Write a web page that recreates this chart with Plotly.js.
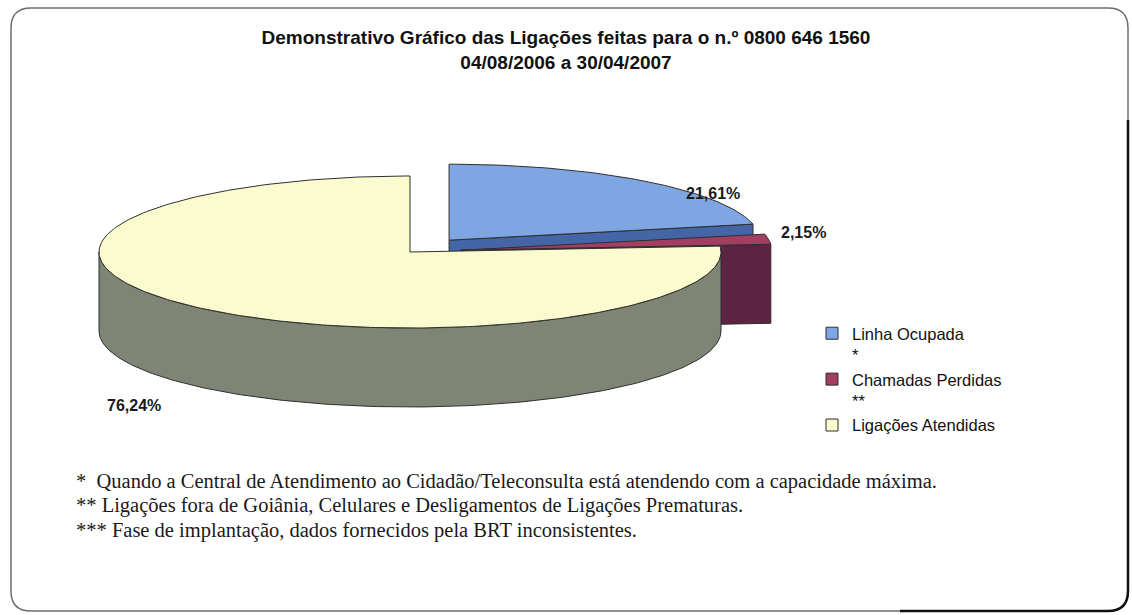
<!DOCTYPE html>
<html>
<head>
<meta charset="utf-8">
<script src="https://cdn.plot.ly/plotly-3.0.1.min.js"></script>
<style>
  html, body { margin: 0; padding: 0; background: #ffffff; }
  #chart { width: 1132px; height: 615px; }
</style>
</head>
<body>
<div id="chart"></div>
<script>
// ---- data ----
const categories = ['Linha Ocupada', 'Chamadas Perdidas', 'Ligações Atendidas'];
const legendNotes = ['*', '**', ''];
const values = [21.61, 2.15, 76.24];
const footnotes = [
  '* &nbsp;Quando a Central de Atendimento ao Cidadão/Teleconsulta está atendendo com a capacidade máxima.',
  '** Ligações fora de Goiânia, Celulares e Desligamentos de Ligações Prematuras.',
  '*** Fase de implantação, dados fornecidos pela BRT inconsistentes.'
];
const titleLines = ['Demonstrativo Gráfico das Ligações feitas para o n.º 0800 646 1560', '04/08/2006 a 30/04/2007'];

// ---- style ----
const topColors  = ['#7ea6e3', '#a13e62', '#fbfbd0'];
const sideColors = ['#4465a6', '#5c2342', '#7e8574'];
const pulls = [0.2, 0.165, 0];
const CX = 410, CY = 252, RX = 311, RY = 76, DEPTH = 79;
const outline = '#2f2f2f';
const labelPos = [[713, 193], [803, 232], [134, 405]];

// ---- geometry from values ----
const total = values.reduce((a, b) => a + b, 0);
const slices = [];
let acc = 0;
values.forEach((v, i) => {
  const a0 = acc / total * 2 * Math.PI;
  acc += v;
  const a1 = acc / total * 2 * Math.PI;
  const mid = (a0 + a1) / 2;
  const vx = CX + pulls[i] * RX * Math.sin(mid);
  const vy = CY - pulls[i] * RY * Math.cos(mid);
  slices.push({i, a0, a1, mid, vx, vy});
});

function pt(s, a, dy) { return [s.vx + RX * Math.sin(a), s.vy - RY * Math.cos(a) + (dy || 0)]; }
function arc(s, a, b, dy) {
  const n = Math.max(2, Math.ceil(Math.abs(b - a) / (Math.PI / 180)));
  const out = [];
  for (let k = 0; k <= n; k++) out.push(pt(s, a + (b - a) * k / n, dy));
  return out;
}
function poly(points, color, name) {
  return {
    type: 'scatter', mode: 'lines', fill: 'toself', fillcolor: color,
    x: points.map(p => p[0]), y: points.map(p => p[1]),
    line: {color: outline, width: 1}, hoverinfo: 'skip', showlegend: false, name: name
  };
}

const traces = [];
const order = slices.slice().sort((p, q) => Math.cos(q.mid) - Math.cos(p.mid));
order.forEach(s => {
  const side = sideColors[s.i], top = topColors[s.i], nm = categories[s.i];
  const V = [s.vx, s.vy], Vd = [s.vx, s.vy + DEPTH];
  if (Math.sin(s.a0) < -1e-6) traces.push(poly([V, pt(s, s.a0), pt(s, s.a0, DEPTH), Vd, V], side, nm));
  if (Math.sin(s.a1) > 1e-6) traces.push(poly([V, pt(s, s.a1), pt(s, s.a1, DEPTH), Vd, V], side, nm));
  const r0 = Math.max(s.a0, Math.PI / 2), r1 = Math.min(s.a1, 3 * Math.PI / 2);
  if (r1 > r0) {
    const upper = arc(s, r0, r1, 0), lower = arc(s, r1, r0, DEPTH);
    traces.push(poly(upper.concat(lower, [upper[0]]), side, nm));
  }
  traces.push(poly([V].concat(arc(s, s.a0, s.a1, 0), [V]), top, nm));
});

// legend entries
categories.forEach((c, i) => {
  traces.push({
    type: 'scatter', mode: 'markers', x: [null], y: [null],
    name: legendNotes[i] ? c + '<br>' + legendNotes[i] : c,
    marker: {symbol: 'square', size: 12, color: topColors[i], line: {color: outline, width: 1}},
    hoverinfo: 'skip', showlegend: true
  });
});

const annotations = values.map((v, i) => ({
  x: labelPos[i][0], y: labelPos[i][1], xref: 'x', yref: 'y',
  text: '<b>' + v.toFixed(2).replace('.', ',') + '%</b>', showarrow: false,
  font: {family: 'Liberation Sans, Arial, sans-serif', size: 16, color: '#1a1a1a'},
  xanchor: 'center', yanchor: 'middle'
}));
const footY = [481, 505, 530];
footnotes.forEach((t, k) => annotations.push({
  x: 74, y: footY[k], xref: 'x', yref: 'y', text: t, showarrow: false,
  font: {family: 'Liberation Serif, Times New Roman, serif', size: 20.5, color: '#1a1a1a'},
  xanchor: 'left', yanchor: 'middle'
}));

const layout = {
  width: 1132, height: 615,
  margin: {l: 0, r: 0, t: 0, b: 0},
  paper_bgcolor: '#ffffff', plot_bgcolor: 'rgba(0,0,0,0)',
  title: {
    text: '<b>' + titleLines.join('<br>') + '</b>',
    x: 0.5, xanchor: 'center', y: 1 - 44 / 615, yanchor: 'top',
    font: {family: 'Liberation Sans, Arial, sans-serif', size: 19, color: '#111'}
  },
  xaxis: {range: [0, 1132], visible: false, fixedrange: true},
  yaxis: {range: [615, 0], visible: false, fixedrange: true},
  showlegend: true,
  legend: {
    x: 812 / 1132, y: 1 - 316 / 615, xanchor: 'left', yanchor: 'top',
    font: {family: 'Liberation Sans, Arial, sans-serif', size: 16.5, color: '#111'},
    bgcolor: 'rgba(0,0,0,0)', valign: 'top', tracegroupgap: 0, itemwidth: 30
  },
  annotations: annotations,
  shapes: [
    {type: 'path', xref: 'x', yref: 'y', layer: 'below',
     path: 'M 31,8 L 1108,8 Q 1128,8 1128,28 L 1128,591 Q 1128,611 1108,611 L 31,611 Q 11,611 11,591 L 11,28 Q 11,8 31,8 Z',
     line: {color: '#6d6d6d', width: 1.5}, fillcolor: 'rgba(0,0,0,0)'},
    {type: 'path', xref: 'x', yref: 'y', layer: 'below',
     path: 'M 1128,120 L 1128,591 Q 1128,611 1108,611 L 900,611',
     line: {color: '#111', width: 2.5}}
  ]
};

Plotly.newPlot('chart', traces, layout, {displayModeBar: false, staticPlot: true});
</script>
</body>
</html>
